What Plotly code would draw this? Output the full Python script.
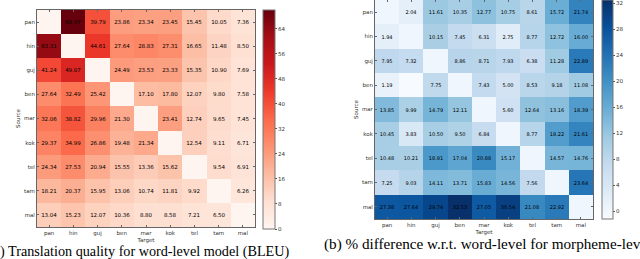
import plotly.graph_objects as go

langs = ["pan", "hin", "guj", "ben", "mar", "kok", "tel", "tam", "mal"]

# (a) BLEU, word-level model; diagonal = None (no value shown)
bleu = [
    [None, 69.97, 39.79, 23.86, 23.34, 23.45, 15.45, 10.05, 7.36],
    [63.31, None, 44.61, 27.64, 28.83, 27.31, 16.65, 11.48, 8.50],
    [41.24, 49.07, None, 24.49, 23.53, 23.33, 15.35, 10.90, 7.69],
    [27.64, 32.49, 25.42, None, 17.10, 17.80, 12.07, 9.80, 7.58],
    [32.06, 38.82, 29.96, 21.30, None, 23.41, 12.74, 9.65, 7.45],
    [29.37, 34.99, 26.86, 19.48, 21.34, None, 12.54, 9.11, 6.71],
    [24.34, 27.53, 20.94, 15.55, 13.36, 15.62, None, 9.54, 6.91],
    [18.21, 20.37, 15.95, 13.06, 10.74, 11.81, 9.92, None, 6.26],
    [13.04, 15.23, 12.07, 10.36, 8.80, 8.58, 7.21, 6.50, None],
]

# (b) % difference w.r.t. word-level for morpheme-level
pct = [
    [None, 2.04, 11.61, 10.35, 12.77, 10.75, 8.61, 15.72, 21.74],
    [1.94, None, 10.15, 7.45, 6.31, 2.75, 8.77, 12.72, 16.00],
    [7.95, 7.32, None, 8.86, 8.71, 7.93, 6.38, 11.28, 22.89],
    [1.19, -1.2, 7.75, None, 7.43, 5.00, 8.53, 9.18, 11.08],
    [13.85, 9.99, 14.79, 12.11, None, 5.60, 12.64, 13.16, 18.39],
    [10.45, 3.83, 10.50, 9.50, 6.84, None, 8.77, 18.22, 21.61],
    [10.48, 10.21, 18.91, 17.04, 20.88, 15.17, None, 14.57, 14.76],
    [7.25, 9.03, 14.11, 13.71, 15.83, 14.56, 7.56, None, 23.64],
    [27.38, 27.64, 29.74, 32.53, 27.05, 30.54, 21.08, 22.92, None],
]

bleu_ticks = [0, 8, 16, 24, 32, 40, 48, 56, 64]
pct_ticks = [0, 4, 8, 12, 16, 20, 24, 28, 32]

reds = ["#fff5f0", "#fee0d2", "#fcbba1", "#fc9272", "#fb6a4a", "#ef3b2c", "#cb181d", "#a50f15", "#67000d"]
blues = ["#f7fbff", "#deebf7", "#c6dbef", "#9ecae1", "#6baed6", "#4292c6", "#2171b5", "#08519c", "#08306b"]


def scale(cols):
    n = len(cols) - 1
    return [[i / n, c] for i, c in enumerate(cols)]


def zvals(m):
    return [[0 if v is None else v for v in row] for row in m]


def texts(m, hide_neg=False):
    out = []
    for row in m:
        r = []
        for v in row:
            if v is None or (hide_neg and v < 0):
                r.append("")
            else:
                r.append(f"{v:.2f}")
        out.append(r)
    return out


W, H = 640, 259
fig = go.Figure()

fig.add_trace(go.Heatmap(
    z=zvals(bleu), x=langs, y=langs, text=texts(bleu), texttemplate="%{text}",
    textfont=dict(size=5.5, color="black", family="DejaVu Sans"),
    colorscale=scale(reds), zmin=0, zmax=69.97, xaxis="x", yaxis="y",
    colorbar=dict(x=263 / W, xanchor="left", y=1 - 10 / H, yanchor="top",
                  len=219 / H, lenmode="fraction", thickness=12, thicknessmode="pixels",
                  xpad=0, ypad=0,
                  outlinecolor="#777", outlinewidth=1, tickvals=bleu_ticks,
                  ticks="outside", ticklen=2, tickcolor="#555",
                  tickfont=dict(size=5.5, color="#333", family="DejaVu Sans")),
    hoverinfo="skip",
))

fig.add_trace(go.Heatmap(
    z=zvals(pct), x=langs, y=langs, text=texts(pct, True), texttemplate="%{text}",
    textfont=dict(size=5, color="black", family="DejaVu Sans"),
    colorscale=scale(blues), zmin=-1.2, zmax=32.53, xaxis="x2", yaxis="y2",
    colorbar=dict(x=602 / W, xanchor="left", y=1.0, yanchor="top",
                  len=219 / H, lenmode="fraction", thickness=11, thicknessmode="pixels",
                  xpad=0, ypad=0,
                  outlinecolor="#777", outlinewidth=1, tickvals=pct_ticks,
                  ticks="outside", ticklen=2, tickcolor="#555",
                  tickfont=dict(size=5.5, color="#333", family="DejaVu Sans")),
    hoverinfo="skip",
))

axfont = dict(size=5.5, color="#333", family="DejaVu Sans")
common = dict(showline=True, linecolor="#666", linewidth=1, mirror="ticks",
              ticks="inside", ticklen=2, tickcolor="#666", tickfont=axfont,
              showgrid=False, zeroline=False, automargin=False)

fig.update_layout(
    width=W, height=H, margin=dict(l=0, r=0, t=0, b=0, autoexpand=False),
    paper_bgcolor="white", plot_bgcolor="white", showlegend=False,
    xaxis=dict(domain=[37 / W, 255 / W], anchor="y",
               title=dict(text="Target", font=axfont, standoff=2), **common),
    yaxis=dict(domain=[1 - 227 / H, 1 - 10 / H], anchor="x", autorange="reversed",
               title=dict(text="Source", font=axfont, standoff=2), **common),
    xaxis2=dict(domain=[375 / W, 593 / W], anchor="y2",
                title=dict(text="Target", font=axfont, standoff=2), **common),
    yaxis2=dict(domain=[1 - 219 / H, 1.0], anchor="x2", autorange="reversed",
                title=dict(text="Source", font=axfont, standoff=2), **common),
)

fig.add_annotation(text=") Translation quality for word-level model (BLEU)",
                   xref="paper", yref="paper", x=-2 / W, y=1 - 251 / H,
                   xanchor="left", yanchor="middle", showarrow=False,
                   font=dict(size=14.2, color="black", family="Liberation Serif"))
fig.add_annotation(text="(b) % difference w.r.t. word-level for morpheme-level model",
                   xref="paper", yref="paper", x=322 / W, y=1 - 244 / H,
                   xanchor="left", yanchor="middle", showarrow=False,
                   font=dict(size=15.2, color="black", family="Liberation Serif"))

fig.write_html("out.html", config={"displayModeBar": False},
               post_script="document.body.style.margin='0';")
